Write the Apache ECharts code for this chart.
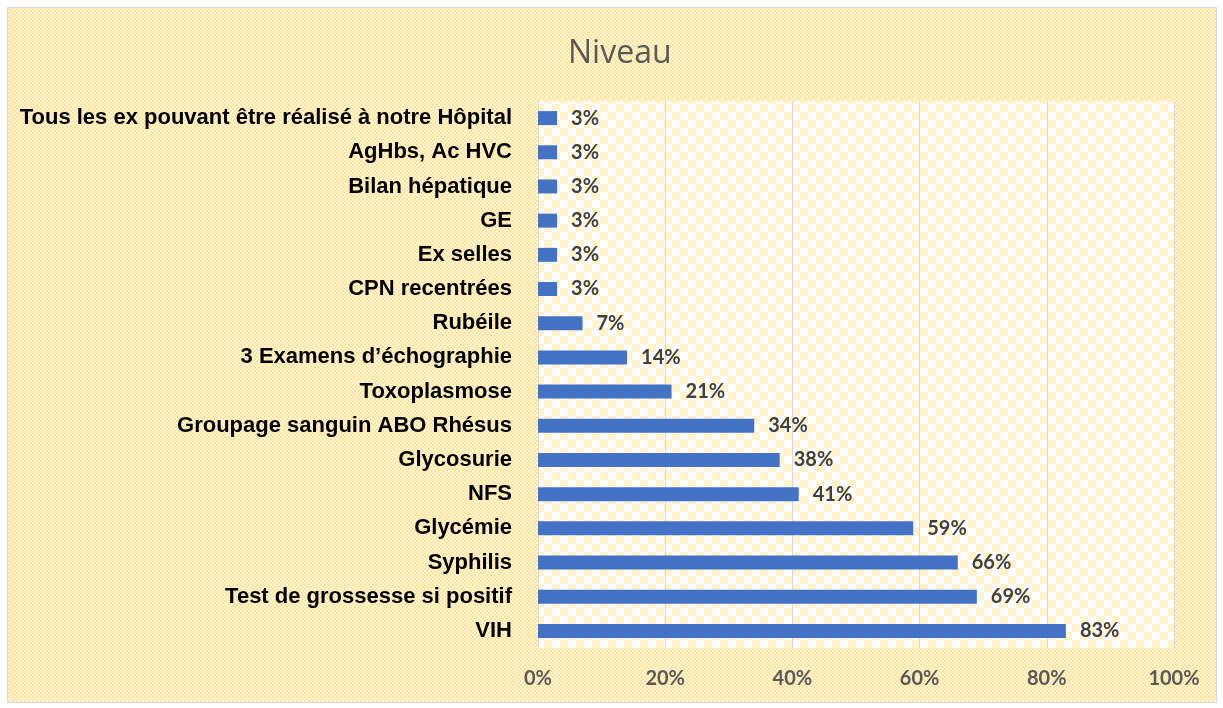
<!DOCTYPE html>
<html><head><meta charset="utf-8">
<script src="https://cdn.jsdelivr.net/npm/echarts@6/dist/echarts.min.js"></script>
<style>html,body{margin:0;padding:0;background:#fff}#c{width:1223px;height:708px}</style>
</head><body><div id="c"></div>
<script>
const categories = ["Tous les ex pouvant être réalisé à notre Hôpital","AgHbs, Ac HVC","Bilan hépatique","GE","Ex selles","CPN recentrées","Rubéile","3 Examens d\u2019échographie","Toxoplasmose","Groupage sanguin ABO Rhésus","Glycosurie","NFS","Glycémie","Syphilis","Test de grossesse si positif","VIH"];
const values = [3,3,3,3,3,3,7,14,21,34,38,41,59,66,69,83];
const title = "Niveau";

function checker(cell, c1, c2){
  const cv=document.createElement('canvas'); cv.width=cell*2; cv.height=cell*2;
  const g=cv.getContext('2d'); g.fillStyle=c1; g.fillRect(0,0,cell*2,cell*2);
  g.fillStyle=c2; g.fillRect(0,0,cell,cell); g.fillRect(cell,cell,cell,cell);
  return cv;
}
const outerPat={image:checker(2,'#FFF6DA','#FFE49A'),repeat:'repeat'};
const innerPat={image:checker(8,'#FFFFFF','#FFF2CC'),repeat:'repeat'};

const chart=echarts.init(document.getElementById('c'),null,{renderer:'canvas'});
chart.setOption({
  backgroundColor:'#ffffff',
  animation:false,
  graphic:[{type:'rect',z:-10,silent:true,shape:{x:7.5,y:7.5,width:1209,height:695},style:{fill:outerPat,stroke:'#D9D9D9',lineWidth:1}}],
  title:{text:title,left:563,top:33,textStyle:{fontFamily:'Open Sans, Lato, sans-serif',fontWeight:'normal',fontSize:32,color:'#595959'}},
  grid:{left:538,right:49,top:101,bottom:60,show:true,backgroundColor:innerPat,borderWidth:0},
  xAxis:{type:'value',min:0,max:100,interval:20,
    axisLabel:{formatter:'{value}%',margin:21,fontFamily:'Lato, Open Sans, sans-serif',fontWeight:'bold',fontSize:20,color:'#595959'},
    axisLine:{show:false},axisTick:{show:false},
    splitLine:{show:true,lineStyle:{color:'#D9D9D9',width:1}}},
  yAxis:{type:'category',inverse:true,data:categories,
    axisLine:{show:true,lineStyle:{color:'#D9D9D9'}},axisTick:{show:false},
    axisLabel:{margin:26,fontFamily:'Liberation Sans, Arial, sans-serif',fontWeight:'bold',fontSize:22,color:'#000000'}},
  series:[{type:'bar',data:values,barWidth:14,itemStyle:{color:'#4472C4'},
    label:{show:true,position:'right',distance:14,formatter:'{c}%',fontFamily:'Lato, Open Sans, sans-serif',fontWeight:'bold',fontSize:20,color:'#404040'}}]
});
</script></body></html>
